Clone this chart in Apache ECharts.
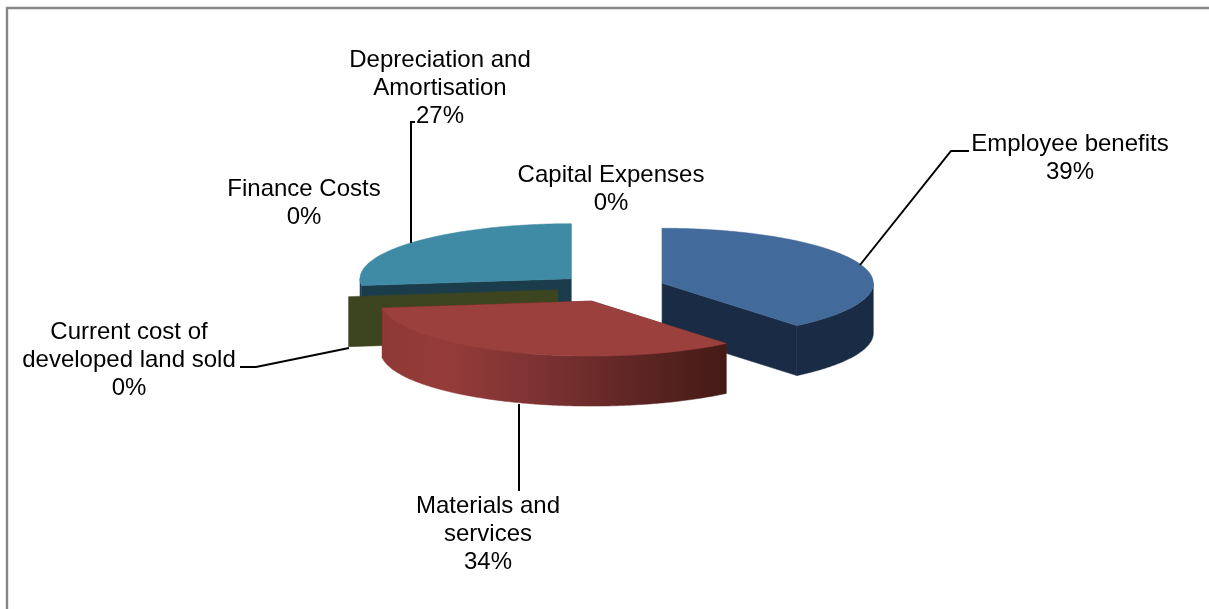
<!DOCTYPE html>
<html>
<head>
<meta charset="utf-8">
<style>html,body{margin:0;padding:0;background:#fff}#chart{width:1209px;height:609px}</style>
<script src="https://cdn.jsdelivr.net/npm/echarts@6/dist/echarts.min.js"></script>
</head>
<body>
<div id="chart"></div>
<script>
// Expense shares, clockwise from twelve o'clock
const categories = ['Employee benefits', 'Materials and services', 'Current cost of developed land sold', 'Finance Costs', 'Depreciation and Amortisation', 'Capital Expenses'];
const shares = [39, 34, 0, 0, 27, 0];

// Wrapped label text for each category
const labelLines = [
  ['Employee benefits'],
  ['Materials and', 'services'],
  ['Current cost of', 'developed land sold'],
  ['Finance Costs'],
  ['Depreciation and', 'Amortisation'],
  ['Capital Expenses']
];

// Back-to-front painting order for the extruded slices
const paintOrder = [4, 0, 2, 1];

// Projection of the tilted pie
const pie = { cx: 611.5, cy: 288, rx: 211, ry: 55, depth: 50, explode: 54 };

const sliceStyles = [
  { top: '#426b9b', rim: '#1a2c45', wall: '#1a2c45' },
  { top: '#9c403e', wall: '#5a2422', rim: new echarts.graphic.LinearGradient(0, 0, 1, 0, [
    { offset: 0, color: '#8e3835' }, { offset: 0.18, color: '#953c3a' },
    { offset: 0.5, color: '#783130' }, { offset: 0.75, color: '#5c2523' }, { offset: 1, color: '#451a16' }
  ]) },
  { top: '#3c4420', rim: '#3c4420', wall: '#3c4420' },
  null,
  { top: '#3f8aa4', rim: '#1d4252', wall: '#1b3d4b' },
  null
];

// Anchor of each centred label block, and the leader running from the pie to it
const labelLayout = [
  { x: 1070, y: 158, leader: [[860, 265], [951, 151], [969, 151]] },
  { x: 488, y: 534, leader: [[519, 404], [519, 491]] },
  { x: 129, y: 360, leader: [[349, 348], [256, 367], [240, 367]] },
  { x: 304, y: 203 },
  { x: 440, y: 88, leader: [[411, 243], [411, 122], [415, 122]] },
  { x: 611, y: 189 }
];

const FONT = '24px "Liberation Sans", Arial, sans-serif';
const LINE_HEIGHT = 28;

const total = shares.reduce((a, b) => a + b, 0);
let running = 0;
const sweeps = shares.map(v => {
  const start = running / total * 2 * Math.PI;
  running += v;
  return { start, end: running / total * 2 * Math.PI };
});

function renderSlice(params, api) {
  const i = api.value(0);
  const style = sliceStyles[i];
  const { start, end } = sweeps[i];
  const mid = (start + end) / 2;
  const cx = pie.cx + pie.explode * Math.sin(mid);
  const cy = pie.cy - pie.explode * Math.cos(mid) * pie.ry / pie.rx;
  const at = a => [cx + pie.rx * Math.sin(a), cy - pie.ry * Math.cos(a)];
  const down = p => [p[0], p[1] + pie.depth];
  const arc = (a, b) => {
    const n = Math.max(1, Math.ceil(Math.abs(b - a) / 0.01));
    const pts = [];
    for (let k = 0; k <= n; k++) pts.push(at(a + (b - a) * k / n));
    return pts;
  };
  const poly = (points, fill) => ({
    type: 'polygon', shape: { points }, style: { fill, stroke: fill, lineWidth: 0.5 }
  });
  const apex = [cx, cy];
  const children = [];
  const wall = a => poly([apex, at(a), down(at(a)), down(apex)], style.wall);
  children.push(wall(start));
  if (end > start) {
    children.push(wall(end));
    // Only the part of the rim between 3 and 9 o'clock faces the viewer
    const a = Math.max(start, Math.PI / 2), b = Math.min(end, 3 * Math.PI / 2);
    if (b > a) {
      const edge = arc(a, b);
      children.push(poly(edge.concat(edge.map(down).reverse()), style.rim));
    }
    children.push(poly([apex].concat(arc(start, end)), style.top));
  }
  return { type: 'group', children };
}

function renderLabel(params, api) {
  const i = api.value(0);
  const layout = labelLayout[i];
  const text = labelLines[i].concat(api.value(1) + '%').join('\n');
  const children = [{
    type: 'text',
    x: layout.x, y: layout.y,
    style: { text, font: FONT, lineHeight: LINE_HEIGHT, fill: '#000', align: 'center', verticalAlign: 'middle' }
  }];
  if (layout.leader) {
    children.push({
      type: 'polyline', shape: { points: layout.leader },
      style: { stroke: '#000', lineWidth: 2, fill: null }
    });
  }
  return { type: 'group', children };
}

const chart = echarts.init(document.getElementById('chart'), null, { renderer: 'canvas' });
chart.setOption({
  animation: false,
  backgroundColor: '#fff',
  // Chart-area frame: only its top and left edges fall inside the page
  graphic: [
    { type: 'line', shape: { x1: 6, y1: 8, x2: 1209, y2: 8 }, style: { stroke: '#868686', lineWidth: 2.4 } },
    { type: 'line', shape: { x1: 7, y1: 7, x2: 7, y2: 609 }, style: { stroke: '#868686', lineWidth: 2.4 } }
  ],
  series: [
    {
      type: 'custom', coordinateSystem: 'none', silent: true,
      renderItem: renderSlice, encode: { itemName: 2 },
      data: paintOrder.map(i => [i, shares[i], categories[i]])
    },
    {
      type: 'custom', coordinateSystem: 'none', silent: true,
      renderItem: renderLabel, encode: { itemName: 2 },
      data: categories.map((name, i) => [i, shares[i], name])
    }
  ]
});
</script>
</body>
</html>
